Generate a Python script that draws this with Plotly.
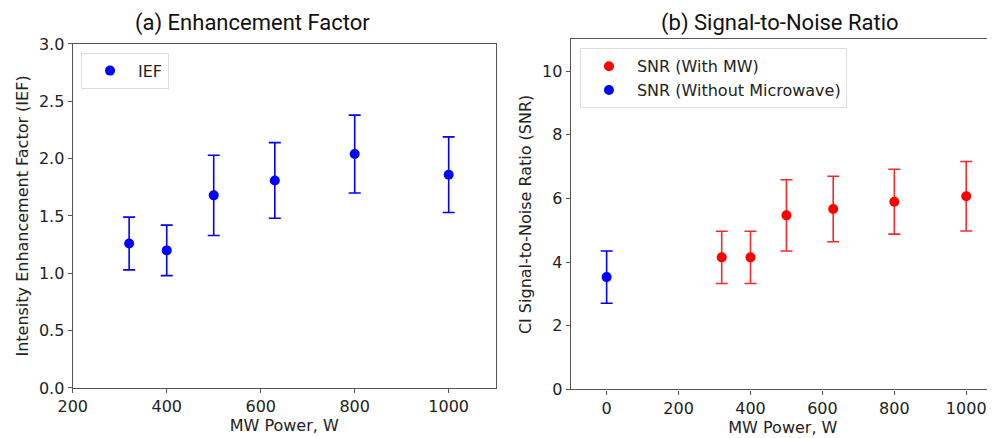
import plotly.graph_objects as go

# Panel (a) data
power_a = [320, 400, 500, 630, 800, 1000]
ief = [1.26, 1.20, 1.68, 1.81, 2.04, 1.86]
ief_err = [0.23, 0.22, 0.35, 0.33, 0.34, 0.33]

# Panel (b) data
power_mw = [320, 400, 500, 630, 800, 1000]
snr_mw = [4.15, 4.15, 5.47, 5.67, 5.90, 6.07]
snr_mw_err = [0.82, 0.82, 1.12, 1.03, 1.02, 1.09]
power_nomw = [0]
snr_nomw = [3.53]
snr_nomw_err = [0.82]

FAM = "DejaVu Sans, Bitstream Vera Sans, Verdana, sans-serif"
TICK_FONT = dict(family=FAM, size=16, color="#222")
LABEL_FONT = dict(family=FAM, size=16, color="#222")
AX = "#555"

fig = go.Figure()

fig.add_trace(go.Scatter(
    x=power_a, y=ief, mode="markers", name="IEF",
    marker=dict(color="blue", size=10),
    error_y=dict(type="data", array=ief_err, color="blue", thickness=1.6, width=6),
    xaxis="x", yaxis="y", legend="legend"))

fig.add_trace(go.Scatter(
    x=power_mw, y=snr_mw, mode="markers", name="SNR (With MW)",
    marker=dict(color="red", size=10),
    error_y=dict(type="data", array=snr_mw_err, color="rgba(255,0,0,0.85)", thickness=1.6, width=6),
    xaxis="x2", yaxis="y2", legend="legend2"))

fig.add_trace(go.Scatter(
    x=power_nomw, y=snr_nomw, mode="markers", name="SNR (Without Microwave)",
    marker=dict(color="blue", size=10),
    error_y=dict(type="data", array=snr_nomw_err, color="blue", thickness=1.6, width=6),
    xaxis="x2", yaxis="y2", legend="legend2"))

common_x = dict(showline=True, linecolor=AX, linewidth=1.3, mirror=True,
                ticks="outside", ticklen=4, tickcolor=AX, tickfont=TICK_FONT,
                showgrid=False, zeroline=False, automargin=False)
common_y = dict(showline=True, linecolor=AX, linewidth=1.3,
                ticks="outside", ticklen=4, tickcolor=AX, tickfont=TICK_FONT,
                showgrid=False, zeroline=False, automargin=False)

W, H = 987, 430  # page body has an 8px margin inside the 995x438 window

fig.update_layout(
    width=W, height=H,
    margin=dict(l=0, r=0, t=0, b=0),
    paper_bgcolor="white", plot_bgcolor="white",
    xaxis=dict(common_x, domain=[0.0656, 0.4941], range=[200, 1100],
               tickvals=[200, 400, 600, 800, 1000],
               title=dict(text="MW Power, W", font=LABEL_FONT, standoff=4)),
    yaxis=dict(common_y, domain=[0.1163, 0.9163], range=[0, 3.0], mirror=True,
               tickvals=[0, 0.5, 1.0, 1.5, 2.0, 2.5, 3.0], tickformat=".1f",
               title=dict(text="Intensity Enhancement Factor (IEF)", font=LABEL_FONT, standoff=6)),
    xaxis2=dict(common_x, domain=[0.5701, 1.0], range=[-100, 1080], anchor="y2",
                tickvals=[0, 200, 400, 600, 800, 1000],
                title=dict(text="MW Power, W", font=LABEL_FONT, standoff=4)),
    yaxis2=dict(common_y, domain=[0.1128, 0.9272], range=[0, 11], anchor="x2",
                tickvals=[0, 2, 4, 6, 8, 10],
                title=dict(text="CI Signal-to-Noise Ratio (SNR)", font=LABEL_FONT, standoff=6)),
    legend=dict(x=0.0740, y=0.896, xanchor="left", yanchor="top",
                bordercolor="#ddd", borderwidth=1, bgcolor="white",
                font=dict(family=FAM, size=16, color="#222"),
                itemwidth=46),
    legend2=dict(x=0.5795, y=0.9063, xanchor="left", yanchor="top",
                 bordercolor="#ddd", borderwidth=1, bgcolor="white",
                 font=dict(family=FAM, size=16, color="#222"),
                 itemwidth=46, tracegroupgap=0),
    showlegend=True,
    annotations=[
        dict(text="(a) Enhancement Factor", x=244 / W, y=1.0,
             xref="paper", yref="paper", showarrow=False, xanchor="center", yanchor="top",
             font=dict(family="Liberation Sans Narrow, Roboto, sans-serif", size=22, color="#111")),
        dict(text="(b) Signal-to-Noise Ratio", x=772 / W, y=1.0,
             xref="paper", yref="paper", showarrow=False, xanchor="center", yanchor="top",
             font=dict(family="Liberation Sans Narrow, Roboto, sans-serif", size=22, color="#111")),
    ],
)

fig.write_html("out.html")
